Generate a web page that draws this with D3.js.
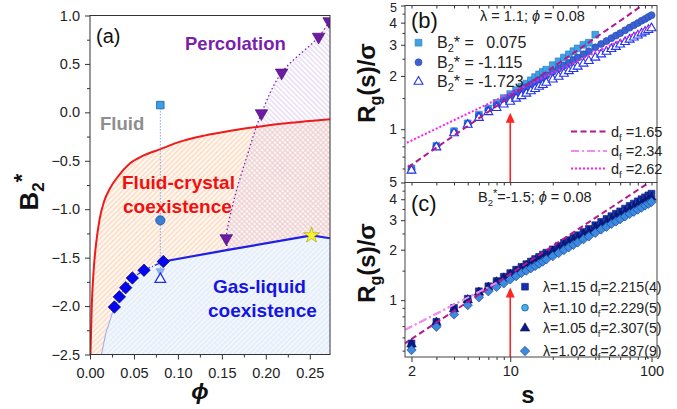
<!DOCTYPE html>
<html>
<head>
<meta charset="utf-8">
<script src="https://cdn.jsdelivr.net/npm/d3@7"></script>
<style>
  body { margin: 0; background: #fff; }
  svg text { font-family: "Liberation Sans", Arial, sans-serif; }
</style>
</head>
<body>
<div id="chart"></div>
<script>

// ---------- panel (a) data : phase diagram ----------
var phiTicks = [0, 0.05, 0.10, 0.15, 0.20, 0.25];
var phiMinor = [0.025, 0.075, 0.125, 0.175, 0.225];
var b2Ticks = [-2.5, -2.0, -1.5, -1.0, -0.5, 0.0, 0.5, 1.0];
var b2Minor = [-2.25, -1.75, -1.25, -0.75, -0.25, 0.25, 0.75];

// fluid-crystal boundary (red)
var fluidCrystal = [[0.0005, -2.5], [0.002, -2.0], [0.004, -1.65], [0.007, -1.35], [0.011, -1.1],
  [0.016, -0.92], [0.023, -0.78], [0.032, -0.66], [0.045, -0.53], [0.06, -0.45], [0.08, -0.38],
  [0.10, -0.31], [0.13, -0.24], [0.16, -0.19], [0.19, -0.15], [0.22, -0.115], [0.25, -0.09], [0.273, -0.07]];

// gas-liquid coexistence
var gasLiquidEdge = [[0.013, -2.5], [0.018, -2.28], [0.0277, -2.01]];
var gasLiquidDiamonds = [[0.0277, -2.01], [0.0334, -1.905], [0.0406, -1.81], [0.0482, -1.71], [0.0614, -1.63], [0.0834, -1.54]];
var gasLiquidLine = [[0.0834, -1.54], [0.157, -1.42], [0.252, -1.27], [0.273, -1.30]];
var starPoint = [0.252, -1.27];

// percolation
var percPoints = [[0.155, -1.30], [0.195, -0.01], [0.218, 0.41], [0.26, 0.78], [0.272, 0.94]];
var percLine = [[0.157, -1.42], [0.155, -1.30], [0.163, -0.93], [0.178, -0.47], [0.195, -0.01],
  [0.218, 0.41], [0.26, 0.78], [0.278, 1.02]];

// state points at phi = 0.08
var statePhi = 0.08;
var stateB2 = [0.075, -1.115, -1.723];
var midB2 = -1.64;

// ---------- panels (b),(c) data : Rg(s) ----------
var sTicks = [2, 10, 100];
var sMinor = [3, 4, 5, 6, 7, 8, 9, 20, 30, 40, 50, 60, 70, 80, 90];
var sGrid = [2, 3, 4, 5, 6, 7, 8, 9, 10, 11, 12, 13, 14, 15, 16, 17, 18, 20, 22, 24, 26, 28, 30,
  33, 36, 40, 44, 48, 52, 56, 60, 65, 70, 75, 80, 85, 90, 95, 100];

// (b) lambda = 1.1, phi = 0.08
var rgB_0075 = [0.60, 0.806, 0.974, 1.08, 1.21, 1.31, 1.41, 1.50, 1.58, 1.66, 1.74, 1.81, 1.89, 1.97,
  2.04, 2.11, 2.17, 2.30, 2.42, 2.54, 2.65, 2.76, 2.86, 3.00, 3.08, 3.42];
var rgB_1115 = [0.59, 0.80, 0.96, 1.07, 1.19, 1.28, 1.37, 1.45, 1.53, 1.60, 1.66, 1.73, 1.79, 1.84,
  1.90, 1.95, 2.01, 2.11, 2.20, 2.29, 2.37, 2.46, 2.54, 2.65, 2.76, 2.90, 3.03, 3.15, 3.27, 3.38,
  3.49, 3.62, 3.75, 3.87, 3.98, 4.10, 4.20, 4.31, 4.41];
var rgB_1723 = [0.584, 0.79, 0.95, 1.06, 1.16, 1.25, 1.32, 1.38, 1.43, 1.49, 1.54, 1.59, 1.64, 1.69,
  1.74, 1.78, 1.83, 1.91, 1.98, 2.06, 2.13, 2.19, 2.26, 2.35, 2.43, 2.54, 2.65, 2.74, 2.84, 2.92,
  3.01, 3.11, 3.21, 3.30, 3.39, 3.48, 3.56, 3.64, 3.72];

// (c) B2* = -1.5, phi = 0.08
var rgC_115 = [0.552, 0.743, 0.90, 1.02, 1.13, 1.21, 1.30, 1.38, 1.45, 1.52, 1.58, 1.64, 1.70, 1.76,
  1.81, 1.87, 1.92, 2.01, 2.11, 2.20, 2.28, 2.36, 2.44, 2.55, 2.66, 2.80, 2.93, 3.05, 3.17, 3.28,
  3.39, 3.52, 3.65, 3.77, 3.89, 4.00, 4.11, 4.22, 4.32];
var rgC_110 = [0.53, 0.72, 0.87, 0.98, 1.09, 1.17, 1.25, 1.33, 1.40, 1.46, 1.53, 1.58, 1.64, 1.69,
  1.75, 1.80, 1.85, 1.94, 2.03, 2.11, 2.19, 2.27, 2.35, 2.45, 2.56, 2.69, 2.81, 2.93, 3.04, 3.15,
  3.25, 3.37, 3.49, 3.61, 3.72, 3.83, 3.93, 4.03, 4.13];
var rgC_105 = [0.545, 0.735, 0.885, 1.00, 1.11, 1.19, 1.28, 1.35, 1.42, 1.48, 1.54, 1.60, 1.66, 1.71,
  1.76, 1.81, 1.86, 1.95, 2.04, 2.12, 2.20, 2.28, 2.35, 2.46, 2.56, 2.69, 2.81, 2.92, 3.03, 3.14,
  3.24, 3.36, 3.48, 3.59, 3.70, 3.80, 3.90, 4.00, 4.10];
var rgC_102 = [0.504, 0.694, 0.822, 0.934, 1.04, 1.13, 1.20, 1.26, 1.33, 1.39, 1.45, 1.50, 1.55, 1.60,
  1.65, 1.70, 1.75, 1.83, 1.91, 1.99, 2.07, 2.14, 2.21, 2.31, 2.40, 2.52, 2.64, 2.74, 2.85, 2.95,
  3.04, 3.16, 3.27, 3.37, 3.47, 3.57, 3.67, 3.76, 3.85];

// fitted power laws (end points)
var fitB165 = [[1.89, 0.61], [86, 5.0]];
var fitB234 = [[9, 1.42], [100, 4.30]];
var fitB262 = [[1.75, 0.82], [100, 3.85]];
var fitC_dash = [[1.75, 0.545], [95, 5.0]];
var fitC_dashdot = [[1.8, 0.665], [100, 3.8]];

var rgTicksB = [0.5, 1, 2, 3, 4, 5];
var rgMinorB = [0.6, 0.7, 0.8, 0.9, 1.5, 2.5, 3.5, 4.5];
var rgTicksC = [1, 2, 3, 4];
var rgMinorC = [0.5, 0.6, 0.7, 0.8, 0.9, 1.5, 2.5, 3.5, 4.5];

var arrowS = 10, arrowTipB = 1.24, arrowTipC = 1.19;

// ---------- svg ----------
var svg = d3.select("#chart").append("svg")
  .attr("width", 677).attr("height", 409);
var defs = svg.append("defs");

// hatch patterns
function hatch(id, color, angle, bg, gap, sw) {
  var p = defs.append("pattern").attr("id", id)
    .attr("patternUnits", "userSpaceOnUse")
    .attr("width", gap).attr("height", gap)
    .attr("patternTransform", "rotate(" + angle + ")");
  if (bg) p.append("rect").attr("width", gap).attr("height", gap).attr("fill", bg);
  p.append("line").attr("x1", gap / 2).attr("y1", 0).attr("x2", gap / 2).attr("y2", gap)
    .attr("stroke", color).attr("stroke-width", sw);
}
hatch("hOrange", "#fac8a4", 45, "#fff8f2", 3.6, 0.9);
hatch("hPurple", "#d8c2ec", -45, null, 3.6, 0.9);
hatch("hBlue", "#d6e4f4", 45, "#f2f7fd", 3.6, 0.8);

function styleAxis(g, size) {
  g.select(".domain").remove();
  g.selectAll("line").attr("stroke", "#333");
  g.selectAll("text").attr("font-size", size).attr("fill", "#222")
    .style("font-family", "'Liberation Sans', Arial, sans-serif");
}

// ================= panel (a) =================
var xA = d3.scaleLinear().domain([0, 0.273]).range([90, 330]);
var yA = d3.scaleLinear().domain([-2.5, 1.0]).range([354.5, 15.5]);

defs.append("clipPath").attr("id", "clipA").append("rect")
  .attr("x", 90).attr("y", 15.5).attr("width", 240).attr("height", 339);

var gA = svg.append("g").attr("clip-path", "url(#clipA)");
var lineA = d3.line().x(function(d) { return xA(d[0]); }).y(function(d) { return yA(d[1]); });
var curveA = d3.line().x(function(d) { return xA(d[0]); }).y(function(d) { return yA(d[1]); })
  .curve(d3.curveMonotoneX);
var percCurve = d3.line().x(function(d) { return xA(d[0]); }).y(function(d) { return yA(d[1]); })
  .curve(d3.curveCatmullRom);

// orange region: everything under the red boundary
gA.append("path")
  .attr("d", curveA(fluidCrystal) + "L" + xA(0.28) + "," + yA(-1) + "L" + xA(0.28) + "," + yA(-2.6) + "L" + xA(0) + "," + yA(-2.6) + "Z")
  .attr("fill", "url(#hOrange)");

// blue region (gas-liquid)
var blueEdge = gasLiquidEdge.concat(gasLiquidDiamonds.slice(1), gasLiquidLine.slice(1));
gA.append("path")
  .attr("d", lineA(blueEdge) + "L" + xA(0.28) + "," + yA(-1.3) + "L" + xA(0.28) + "," + yA(-2.6) + "L" + xA(0.013) + "," + yA(-2.6) + "Z")
  .attr("fill", "url(#hBlue)");

// purple region (percolated)
gA.append("path")
  .attr("d", percCurve(percLine) + "L" + xA(0.29) + "," + yA(1.1) + "L" + xA(0.29) + "," + yA(-1.3) +
    "L" + xA(starPoint[0]) + "," + yA(starPoint[1]) + "L" + xA(percLine[0][0]) + "," + yA(percLine[0][1]) + "Z")
  .attr("fill", "url(#hPurple)");

// thin left edge of gas-liquid region
gA.append("path").attr("d", lineA(gasLiquidEdge))
  .attr("fill", "none").attr("stroke", "#9aa6ee").attr("stroke-width", 1);
gA.append("path").attr("d", lineA(gasLiquidDiamonds))
  .attr("fill", "none").attr("stroke", "#2a2ae8").attr("stroke-width", 1.2)
  .attr("stroke-dasharray", "5,2,1,2");

// red boundary
gA.append("path").attr("d", curveA(fluidCrystal))
  .attr("fill", "none").attr("stroke", "#f01a1a").attr("stroke-width", 2);

// blue gas-liquid line
gA.append("path").attr("d", lineA(gasLiquidLine))
  .attr("fill", "none").attr("stroke", "#1f1fe6").attr("stroke-width", 2.2);

// percolation dotted line
gA.append("path").attr("d", percCurve(percLine))
  .attr("fill", "none").attr("stroke", "#7b22b4").attr("stroke-width", 1.3)
  .attr("stroke-dasharray", "1.5,2.5");

// vertical dotted line through state points
gA.append("line")
  .attr("x1", xA(statePhi)).attr("x2", xA(statePhi))
  .attr("y1", yA(stateB2[0])).attr("y2", yA(stateB2[2]))
  .attr("stroke", "#7aa6ea").attr("stroke-width", 1).attr("stroke-dasharray", "1.5,1.5");

// markers
gA.selectAll(".dia").data(gasLiquidDiamonds).enter().append("path")
  .attr("d", d3.symbol().type(d3.symbolSquare).size(78))
  .attr("transform", function(d) { return "translate(" + xA(d[0]) + "," + yA(d[1]) + ") rotate(45)"; })
  .attr("fill", "#0505ee").attr("stroke", "#000066").attr("stroke-width", 0.6);

gA.selectAll(".perc").data(percPoints).enter().append("path")
  .attr("d", d3.symbol().type(d3.symbolTriangle).size(68))
  .attr("transform", function(d) { return "translate(" + xA(d[0]) + "," + yA(d[1]) + ") rotate(180)"; })
  .attr("fill", "#6d1aa6").attr("stroke", "#3d0a66").attr("stroke-width", 0.6);

gA.append("path")
  .attr("d", d3.symbol().type(d3.symbolStar).size(80))
  .attr("transform", "translate(" + xA(starPoint[0]) + "," + yA(starPoint[1]) + ")")
  .attr("fill", "#f4f32c").attr("stroke", "#a89a00").attr("stroke-width", 0.6);

gA.append("path")
  .attr("d", d3.symbol().type(d3.symbolSquare).size(56))
  .attr("transform", "translate(" + xA(statePhi) + "," + yA(stateB2[0]) + ")")
  .attr("fill", "#3c9ee8").attr("stroke", "#1b5da0").attr("stroke-width", 0.8);
gA.append("circle")
  .attr("cx", xA(statePhi)).attr("cy", yA(stateB2[1])).attr("r", 4.6)
  .attr("fill", "#3a7ed6").attr("stroke", "#1a4a9c").attr("stroke-width", 0.8);
gA.append("path")
  .attr("d", d3.symbol().type(d3.symbolTriangle).size(30))
  .attr("transform", "translate(" + xA(statePhi) + "," + yA(midB2) + ") rotate(180)")
  .attr("fill", "#8fb2f2").attr("stroke", "#7a9ae6").attr("stroke-width", 0.6);
gA.append("path")
  .attr("d", d3.symbol().type(d3.symbolTriangle).size(48))
  .attr("transform", "translate(" + xA(statePhi) + "," + yA(stateB2[2]) + ")")
  .attr("fill", "#fff").attr("stroke", "#1f2ef0").attr("stroke-width", 1.3);

// frame + axes (a)
svg.append("rect").attr("x", 90).attr("y", 15.5).attr("width", 240).attr("height", 339)
  .attr("fill", "none").attr("stroke", "#333").attr("stroke-width", 1);

var axAx = svg.append("g").attr("transform", "translate(0,354.5)")
  .call(d3.axisBottom(xA).tickValues(phiTicks).tickFormat(d3.format(".2f")).tickSize(5).tickPadding(8));
styleAxis(axAx, 14.5);
var axAxm = svg.append("g").attr("transform", "translate(0,354.5)")
  .call(d3.axisBottom(xA).tickValues(phiMinor).tickFormat("").tickSize(3));
styleAxis(axAxm, 14);
var axAy = svg.append("g").attr("transform", "translate(90,0)")
  .call(d3.axisLeft(yA).tickValues(b2Ticks).tickFormat(d3.format(".1f")).tickSize(5).tickPadding(5));
styleAxis(axAy, 14.5);
var axAym = svg.append("g").attr("transform", "translate(90,0)")
  .call(d3.axisLeft(yA).tickValues(b2Minor).tickFormat("").tickSize(3));
styleAxis(axAym, 14);

// labels (a)
svg.append("text").attr("x", 96).attr("y", 43).attr("font-size", 20).attr("fill", "#111").text("(a)");
svg.append("text").attr("x", 185).attr("y", 50).attr("font-size", 18.5).attr("font-weight", "bold")
  .attr("fill", "#7a1fac").text("Percolation");
svg.append("text").attr("x", 100).attr("y", 130).attr("font-size", 18.5).attr("font-weight", "bold")
  .attr("fill", "#8e8e8e").text("Fluid");
svg.append("text").attr("x", 122).attr("y", 189).attr("font-size", 19).attr("font-weight", "bold")
  .attr("fill", "#f01010").text("Fluid-crystal");
svg.append("text").attr("x", 123).attr("y", 212.5).attr("font-size", 19).attr("font-weight", "bold")
  .attr("fill", "#f01010").text("coexistence");
svg.append("text").attr("x", 213).attr("y", 292.5).attr("font-size", 19).attr("font-weight", "bold")
  .attr("fill", "#1414e6").text("Gas-liquid");
svg.append("text").attr("x", 208).attr("y", 316.5).attr("font-size", 19).attr("font-weight", "bold")
  .attr("fill", "#1414e6").text("coexistence");

var yLabA = svg.append("text").attr("transform", "translate(38,192) rotate(-90)")
  .attr("text-anchor", "middle").attr("font-size", 26).attr("font-weight", "bold").attr("fill", "#111");
yLabA.append("tspan").text("B");
yLabA.append("tspan").attr("font-size", 17).attr("dy", 6).text("2");
yLabA.append("tspan").attr("font-size", 22).attr("dy", -15).text("*");

svg.append("text").attr("x", 200).attr("y", 399).attr("text-anchor", "middle")
  .attr("font-size", 23).attr("font-style", "italic").attr("font-weight", "bold")
  .attr("fill", "#111").text("\u03d5");

// ================= panels (b) and (c) =================
var xS = d3.scaleLog().domain([2, 100]).range([411.5, 651.5]);
var yB = d3.scaleLog().domain([0.5, 5]).range([182.5, 5.5]);
var yC = d3.scaleLog().domain([0.458, 5]).range([357, 183]);

defs.append("clipPath").attr("id", "clipB").append("rect")
  .attr("x", 405).attr("y", 5.5).attr("width", 252).attr("height", 177);
defs.append("clipPath").attr("id", "clipC").append("rect")
  .attr("x", 405).attr("y", 182.5).attr("width", 252).attr("height", 174.5);

var gB = svg.append("g").attr("clip-path", "url(#clipB)");
var gC = svg.append("g").attr("clip-path", "url(#clipC)");

function fitLine(g, y, pts, color, dash, sw) {
  g.append("path")
    .attr("d", d3.line().x(function(d) { return xS(d[0]); }).y(function(d) { return y(d[1]); })(pts))
    .attr("fill", "none").attr("stroke", color).attr("stroke-width", sw).attr("stroke-dasharray", dash);
}

function squares(g, y, vals, fill, stroke, size) {
  g.append("g").selectAll("path").data(vals).enter().append("path")
    .attr("d", d3.symbol().type(d3.symbolSquare).size(size))
    .attr("transform", function(d, i) { return "translate(" + xS(sGrid[i]) + "," + y(d) + ")"; })
    .attr("fill", fill).attr("stroke", stroke).attr("stroke-width", 0.6);
}
function circles(g, y, vals, fill, stroke, r) {
  g.append("g").selectAll("circle").data(vals).enter().append("circle")
    .attr("cx", function(d, i) { return xS(sGrid[i]); })
    .attr("cy", function(d) { return y(d); })
    .attr("r", r).attr("fill", fill).attr("stroke", stroke).attr("stroke-width", 0.6);
}
function triangles(g, y, vals, fill, stroke, size, sw) {
  g.append("g").selectAll("path").data(vals).enter().append("path")
    .attr("d", d3.symbol().type(d3.symbolTriangle).size(size))
    .attr("transform", function(d, i) { return "translate(" + xS(sGrid[i]) + "," + y(d) + ")"; })
    .attr("fill", fill).attr("stroke", stroke).attr("stroke-width", sw);
}
function diamonds(g, y, vals, fill, stroke, size) {
  g.append("g").selectAll("path").data(vals).enter().append("path")
    .attr("d", d3.symbol().type(d3.symbolSquare).size(size))
    .attr("transform", function(d, i) { return "translate(" + xS(sGrid[i]) + "," + y(d) + ") rotate(45)"; })
    .attr("fill", fill).attr("stroke", stroke).attr("stroke-width", 0.6);
}

// (b) series
fitLine(gB, yB, fitB234, "#f08cf0", "8,3,2,3", 2);
squares(gB, yB, rgB_0075, "#3fa2e4", "#2278c0", 46);
circles(gB, yB, rgB_1115, "#3b62d4", "#2444a8", 3.5);
triangles(gB, yB, rgB_1723, "#fff", "#2233ee", 34, 1.1);
fitLine(gB, yB, fitB262, "#ff1ef0", "2,2", 2);
fitLine(gB, yB, fitB165, "#b4178e", "6,3.5", 2);

// (c) series
fitLine(gC, yC, fitC_dashdot, "#f08cf0", "8,3,2,3", 2);
squares(gC, yC, rgC_115, "#1630b4", "#0a1a70", 46);
circles(gC, yC, rgC_110, "#42b0ea", "#1a3a7a", 3.4);
triangles(gC, yC, rgC_105, "#0b1a86", "#050f50", 40, 0.5);
diamonds(gC, yC, rgC_102, "#3a8ae2", "#1a3a8a", 44);
fitLine(gC, yC, fitC_dash, "#b4178e", "6,3.5", 2);
fitLine(gC, yC, [[fitC_dashdot[0][0], fitC_dashdot[0][1]], [8, 1.27]], "#f08cf0", "8,3,2,3", 2);

// red arrows at s = 10
function arrow(y0, y1) {
  var xa = xS(arrowS);
  svg.append("line").attr("x1", xa).attr("x2", xa).attr("y1", y0).attr("y2", y1 + 8)
    .attr("stroke", "#ff2424").attr("stroke-width", 1.6);
  svg.append("path")
    .attr("d", "M" + xa + "," + y1 + "L" + (xa - 4.5) + "," + (y1 + 10) + "L" + (xa + 4.5) + "," + (y1 + 10) + "Z")
    .attr("fill", "#ff2424");
}
arrow(yB(0.5), yB(arrowTipB));
arrow(yC(0.458), yC(arrowTipC));

// frames
svg.append("rect").attr("x", 405).attr("y", 5.5).attr("width", 252).attr("height", 177)
  .attr("fill", "none").attr("stroke", "#444").attr("stroke-width", 1);
svg.append("rect").attr("x", 405).attr("y", 182.5).attr("width", 252).attr("height", 174.5)
  .attr("fill", "none").attr("stroke", "#444").attr("stroke-width", 1);

// axes (b)/(c)
var axSx = svg.append("g").attr("transform", "translate(0,357)")
  .call(d3.axisBottom(xS).tickValues(sTicks).tickFormat(d3.format("d")).tickSize(5).tickPadding(4));
styleAxis(axSx, 14.5);
var axSxm = svg.append("g").attr("transform", "translate(0,357)")
  .call(d3.axisBottom(xS).tickValues(sMinor).tickFormat("").tickSize(3));
styleAxis(axSxm, 14);
var axSmid = svg.append("g").attr("transform", "translate(0,182.5)")
  .call(d3.axisBottom(xS).tickValues(sTicks.concat(sMinor)).tickFormat("").tickSize(3));
styleAxis(axSmid, 14);
var axSmid2 = svg.append("g").attr("transform", "translate(0,5.5)")
  .call(d3.axisBottom(xS).tickValues(sTicks.concat(sMinor)).tickFormat("").tickSize(3));
styleAxis(axSmid2, 14);

var axBy = svg.append("g").attr("transform", "translate(405,0)")
  .call(d3.axisLeft(yB).tickValues(rgTicksB).tickFormat(function(d) { return d < 1 ? "5" : d3.format("d")(d); })
    .tickSize(4).tickPadding(4));
styleAxis(axBy, 14);
// keep the top "5" inside the picture, clear of the "4"
axBy.selectAll(".tick").filter(function(d) { return d === 5; }).select("text")
  .attr("font-size", 12.5).attr("dy", "0.48em");
var axBym = svg.append("g").attr("transform", "translate(405,0)")
  .call(d3.axisLeft(yB).tickValues(rgMinorB).tickFormat("").tickSize(2.5));
styleAxis(axBym, 14);
var axCy = svg.append("g").attr("transform", "translate(405,0)")
  .call(d3.axisLeft(yC).tickValues(rgTicksC).tickFormat(d3.format("d")).tickSize(4).tickPadding(4));
styleAxis(axCy, 14);
var axCym = svg.append("g").attr("transform", "translate(405,0)")
  .call(d3.axisLeft(yC).tickValues(rgMinorC).tickFormat("").tickSize(2.5));
styleAxis(axCym, 14);

// panel labels and annotations
svg.append("text").attr("x", 411).attr("y", 28).attr("font-size", 22).attr("fill", "#111").text("(b)");
svg.append("text").attr("x", 411).attr("y", 211).attr("font-size", 22).attr("fill", "#111").text("(c)");

var tB = svg.append("text").attr("x", 480).attr("y", 21).attr("font-size", 14.5).attr("fill", "#222");
tB.append("tspan").text("\u03bb = 1.1; ");
tB.append("tspan").attr("font-style", "italic").text("\u03d5");
tB.append("tspan").text(" = 0.08");

var tC = svg.append("text").attr("x", 478).attr("y", 202).attr("font-size", 14.5).attr("fill", "#222");
tC.append("tspan").text("B");
tC.append("tspan").attr("font-size", 9.5).attr("dy", 4).text("2");
tC.append("tspan").attr("font-size", 11).attr("dy", -9).text("*");
tC.append("tspan").attr("dy", 5).text("=-1.5; ");
tC.append("tspan").attr("font-style", "italic").text("\u03d5");
tC.append("tspan").text(" = 0.08");

// legend (b) markers
var legB = [["0.075", 42.7], ["-1.115", 62.3], ["-1.723", 81.7]];
svg.append("path").attr("d", d3.symbol().type(d3.symbolSquare).size(46))
  .attr("transform", "translate(418.5," + legB[0][1] + ")").attr("fill", "#3fa2e4").attr("stroke", "#2278c0").attr("stroke-width", 0.6);
svg.append("circle").attr("cx", 418.5).attr("cy", legB[1][1]).attr("r", 3.5)
  .attr("fill", "#3b62d4").attr("stroke", "#2444a8").attr("stroke-width", 0.6);
svg.append("path").attr("d", d3.symbol().type(d3.symbolTriangle).size(34))
  .attr("transform", "translate(418.5," + legB[2][1] + ")").attr("fill", "#fff").attr("stroke", "#2233ee").attr("stroke-width", 1.1);
legB.forEach(function(d) {
  var t = svg.append("text").attr("x", 437).attr("y", d[1] + 5.5).attr("font-size", 16).attr("fill", "#222");
  t.append("tspan").text("B");
  t.append("tspan").attr("font-size", 11).attr("dy", 4).text("2");
  t.append("tspan").attr("dy", -4).text("* = " + (d[0].charAt(0) === "-" ? "" : "\u2002") + d[0]);
});

// legend (b) fit lines
var legFit = [["1.65", 131.5, "#b4178e", "6,3.5"], ["2.34", 151, "#f08cf0", "8,3,2,3"], ["2.62", 168.5, "#ff1ef0", "2,2"]];
legFit.forEach(function(d) {
  svg.append("line").attr("x1", 571).attr("x2", 607).attr("y1", d[1]).attr("y2", d[1])
    .attr("stroke", d[2]).attr("stroke-width", 2).attr("stroke-dasharray", d[3]);
  var t = svg.append("text").attr("x", 611).attr("y", d[1] + 5).attr("font-size", 14.5).attr("fill", "#222");
  t.append("tspan").text("d");
  t.append("tspan").attr("font-size", 9.5).attr("dy", 4).text("f");
  t.append("tspan").attr("dy", -4).text(" =" + d[0]);
});

// legend (c)
var legC = [["1.15", "2.215(4)", 286.7], ["1.10", "2.229(5)", 307.7], ["1.05", "2.307(5)", 328.3], ["1.02", "2.287(9)", 351]];
svg.append("path").attr("d", d3.symbol().type(d3.symbolSquare).size(46))
  .attr("transform", "translate(525," + legC[0][2] + ")").attr("fill", "#1630b4").attr("stroke", "#0a1a70").attr("stroke-width", 0.6);
svg.append("circle").attr("cx", 525).attr("cy", legC[1][2]).attr("r", 3.4)
  .attr("fill", "#42b0ea").attr("stroke", "#1a3a7a").attr("stroke-width", 0.6);
svg.append("path").attr("d", d3.symbol().type(d3.symbolTriangle).size(40))
  .attr("transform", "translate(525," + legC[2][2] + ")").attr("fill", "#0b1a86").attr("stroke", "#050f50").attr("stroke-width", 0.5);
svg.append("path").attr("d", d3.symbol().type(d3.symbolSquare).size(44))
  .attr("transform", "translate(525," + legC[3][2] + ") rotate(45)").attr("fill", "#3a8ae2").attr("stroke", "#1a3a8a").attr("stroke-width", 0.6);
legC.forEach(function(d) {
  var t = svg.append("text").attr("x", 543).attr("y", d[2] + 5).attr("font-size", 14.2).attr("fill", "#222");
  t.append("tspan").text("\u03bb=" + d[0] + " d");
  t.append("tspan").attr("font-size", 9.5).attr("dy", 4).text("f");
  t.append("tspan").attr("dy", -4).text("=" + d[1]);
});

// axis titles (b),(c)
function rgLabel(cy) {
  var t = svg.append("text").attr("transform", "translate(375," + cy + ") rotate(-90)")
    .attr("text-anchor", "middle").attr("font-size", 24).attr("font-weight", "bold").attr("fill", "#111");
  t.append("tspan").text("R");
  t.append("tspan").attr("font-size", 16).attr("dy", 6).text("g");
  t.append("tspan").attr("dy", -6).text("(s)/\u03c3");
}
rgLabel(83);
rgLabel(263);

svg.append("text").attr("x", 528).attr("y", 403).attr("text-anchor", "middle")
  .attr("font-size", 24).attr("font-weight", "bold").attr("fill", "#111").text("s");

</script>
</body>
</html>
